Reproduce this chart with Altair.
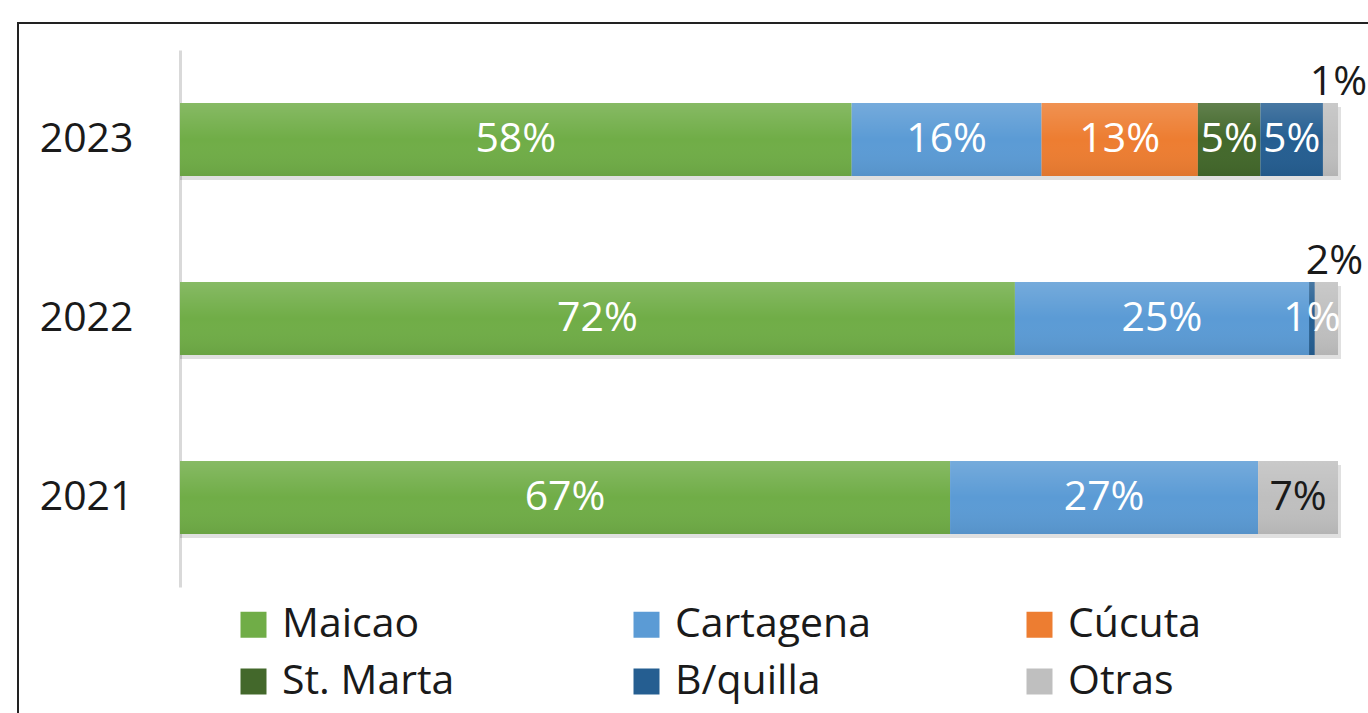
import altair as alt
import pandas as pd

years = ["2023", "2022", "2021"]
cities = ["Maicao", "Cartagena", "Cúcuta", "St. Marta", "B/quilla", "Otras"]
colors = ["#70AD47", "#5B9BD5", "#ED7D31", "#43682B", "#255E91", "#BFBFBF"]

v2023 = [58.0, 16.4, 13.5, 5.4, 5.4, 1.3]
v2022 = [72.1, 25.4, 0.0, 0.0, 0.5, 2.0]
v2021 = [66.5, 26.6, 0.0, 0.0, 0.0, 6.9]

labels2023 = ["58%", "16%", "13%", "5%", "5%", "1%"]
labels2022 = ["72%", "25%", "", "", "1%", "2%"]
labels2021 = ["67%", "27%", "", "", "", "7%"]

# label placement: 'in' = inside (white), 'dark' = inside (black), 'above' = above bar (black)
place2023 = ["in", "in", "in", "in", "in", "above"]
place2022 = ["in", "in", "", "", "in", "above"]
place2021 = ["in", "in", "", "", "", "dark"]

rows = []
for y, vals, labs, pl in [(years[0], v2023, labels2023, place2023),
                          (years[1], v2022, labels2022, place2022),
                          (years[2], v2021, labels2021, place2021)]:
    start = 0.0
    for i, (c, v, l, p) in enumerate(zip(cities, vals, labs, pl)):
        end = start + v
        rows.append(dict(year=y, city=c, value=v, start=start, end=end,
                         mid=(start + end) / 2, label=l, place=p, order=i))
        start = end
df = pd.DataFrame(rows)
bars_df = df[df.value > 0]
tot = df.groupby("year", as_index=False)["end"].max()

FONT = "Open Sans"
FS = 41
W, H = 1158, 537

xs = alt.Scale(domain=[0, 100], range=[0, W])
ys = alt.Scale(domain=years, paddingInner=0.592, paddingOuter=0.296)

frame = alt.Chart(tot).mark_rect(fill=None, stroke="#222222", strokeWidth=2).encode(
    x=alt.value(-162), x2=alt.value(1220), y=alt.value(-27), y2=alt.value(700)
)

shadow = alt.Chart(tot).mark_bar(color="#000000", opacity=0.12, xOffset=3, yOffset=4).encode(
    x=alt.X("end:Q", scale=xs, axis=None),
    x2=alt.value(0),
    y=alt.Y("year:N", scale=ys, sort=years, title=None),
)

bars = alt.Chart(bars_df).mark_bar().encode(
    x=alt.X("start:Q", scale=xs, axis=None),
    x2="end:Q",
    y=alt.Y("year:N", scale=ys, sort=years, title=None,
            axis=alt.Axis(domainColor="#D9D9D9", domainWidth=3, ticks=False,
                          labelFont=FONT, labelFontSize=FS, labelColor="#1a1a1a",
                          labelPadding=47, grid=False)),
    color=alt.Color("city:N", scale=alt.Scale(domain=cities, range=colors), sort=cities,
                    legend=alt.Legend(title=None, orient="none", legendX=53, legendY=554,
                                      direction="horizontal",
                                      columns=3, symbolType="square", symbolSize=676,
                                      symbolStrokeWidth=0, labelFont=FONT, labelFontSize=FS,
                                      labelColor="#1a1a1a", labelOffset=8,
                                      columnPadding=148, rowPadding=15, gridAlign="all",
                                      labelLimit=400)),
    order=alt.Order("order:Q"),
)

sheen = alt.Chart(tot).mark_bar(
    color=alt.Gradient(gradient="linear", x1=0, x2=0, y1=0, y2=1,
                       stops=[alt.GradientStop(offset=0, color="rgba(255,255,255,0.16)"),
                              alt.GradientStop(offset=0.5, color="rgba(255,255,255,0.0)"),
                              alt.GradientStop(offset=1, color="rgba(0,0,0,0.06)")])
).encode(
    x=alt.X("end:Q", scale=xs, axis=None),
    x2=alt.value(0),
    y=alt.Y("year:N", scale=ys, sort=years, title=None),
)

txt_in = alt.Chart(df[df.place == "in"]).mark_text(
    font=FONT, fontSize=FS, color="white", baseline="middle", align="center"
).encode(x=alt.X("mid:Q", scale=xs), y=alt.Y("year:N", scale=ys, sort=years), text="label:N")

txt_dark = alt.Chart(df[df.place == "dark"]).mark_text(
    font=FONT, fontSize=FS, color="#1a1a1a", baseline="middle", align="center"
).encode(x=alt.X("mid:Q", scale=xs), y=alt.Y("year:N", scale=ys, sort=years), text="label:N")

txt_above = alt.Chart(df[df.place == "above"]).mark_text(
    font=FONT, fontSize=FS, color="#1a1a1a", baseline="middle", align="center", dy=-57, dx=8
).encode(x=alt.X("mid:Q", scale=xs), y=alt.Y("year:N", scale=ys, sort=years), text="label:N")

chart = alt.layer(frame, shadow, bars, sheen, txt_in, txt_dark, txt_above).properties(
    width=W, height=H,
    autosize=alt.AutoSizeParams(type="none"),
    padding={"left": 180, "top": 50, "right": 30, "bottom": 126},
    background="white",
).configure_view(strokeWidth=0, stroke="transparent")

chart.save("out.html", embed_options={"renderer": "svg", "actions": False})
